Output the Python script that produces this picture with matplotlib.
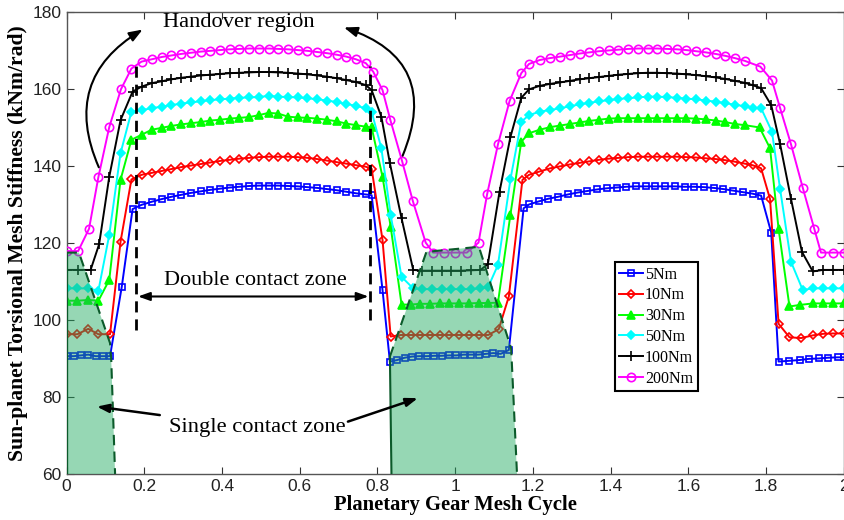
import numpy as np
import matplotlib
matplotlib.use("Agg")
import matplotlib.pyplot as plt
from matplotlib.patches import Polygon

# Sun-planet torsional mesh stiffness over two planetary gear mesh cycles
x_5 = [0, 0.019, 0.037, 0.056, 0.075, 0.093, 0.112, 0.142, 0.17,
       0.193, 0.219, 0.245, 0.27, 0.295, 0.32, 0.345, 0.37, 0.395, 0.42, 0.445, 0.47,
       0.495, 0.52, 0.545, 0.57, 0.595, 0.62, 0.645, 0.67, 0.695, 0.72, 0.745, 0.77, 0.785,
       0.813, 0.832, 0.851, 0.87, 0.889, 0.908, 0.927, 0.946, 0.965, 0.984, 1.003, 1.022,
       1.041, 1.06, 1.079, 1.098, 1.117, 1.138, 1.176,
       1.19, 1.215, 1.24, 1.265, 1.29, 1.315, 1.34, 1.365, 1.39, 1.415, 1.44, 1.465, 1.49,
       1.515, 1.54, 1.565, 1.59, 1.615, 1.64, 1.665, 1.69, 1.715, 1.74, 1.765, 1.787,
       1.813, 1.832, 1.86, 1.886, 1.91, 1.935, 1.96, 1.985, 2.0]
y_5 = [90.6, 90.6, 90.8, 91.0, 90.6, 90.6, 90.6, 108.5, 128.8,
       129.9, 130.7, 131.4, 132.0, 132.5, 133.0, 133.4, 133.8, 134.1, 134.4, 134.6, 134.8,
       134.9, 134.9, 134.9, 134.8, 134.7, 134.5, 134.3, 134.0, 133.7, 133.3, 132.9, 132.6, 132.4,
       107.8, 89.2, 89.6, 90.2, 90.5, 90.6, 90.6, 90.7, 90.7, 90.8, 90.8, 91.0,
       91.0, 91.0, 91.2, 91.4, 91.2, 92.2, 129.0,
       130.0, 130.8, 131.5, 132.0, 132.6, 133.1, 133.5, 133.9, 134.2, 134.4, 134.6, 134.7, 134.7,
       134.7, 134.7, 134.7, 134.6, 134.6, 134.5, 134.3, 134.0, 133.6, 133.2, 132.8, 132.3,
       122.7, 89.2, 89.4, 89.6, 89.9, 90.0, 90.2, 90.3, 90.3]

x_10 = [0, 0.028, 0.056, 0.082, 0.112, 0.139, 0.167,
        0.193, 0.219, 0.245, 0.27, 0.295, 0.32, 0.345, 0.37, 0.395, 0.42, 0.445, 0.47,
        0.495, 0.52, 0.545, 0.57, 0.595, 0.62, 0.645, 0.67, 0.695, 0.72, 0.745, 0.77, 0.785,
        0.813, 0.834, 0.86, 0.885, 0.91, 0.935, 0.96, 0.985, 1.01, 1.035, 1.06, 1.085, 1.112,
        1.138, 1.173,
        1.19, 1.215, 1.245, 1.27, 1.295, 1.32, 1.345, 1.37, 1.395, 1.42, 1.445, 1.47, 1.495,
        1.52, 1.545, 1.57, 1.595, 1.62, 1.645, 1.67, 1.695, 1.72, 1.745, 1.765, 1.787,
        1.81, 1.832, 1.86, 1.89, 1.92, 1.946, 1.971, 2.0]
y_10 = [96.3, 96.3, 97.7, 96.3, 96.3, 120.3, 136.5,
        137.7, 138.2, 138.7, 139.2, 139.7, 140.1, 140.5, 140.9, 141.3, 141.6, 141.9, 142.1,
        142.3, 142.4, 142.4, 142.4, 142.3, 142.1, 141.8, 141.4, 141.0, 140.6, 140.2, 139.8, 139.3,
        120.8, 95.7, 96.1, 96.1, 96.1, 96.1, 96.1, 96.1, 96.1, 96.1, 96.1, 96.1, 97.6,
        106.1, 136.4,
        137.7, 138.5, 139.4, 139.9, 140.4, 140.8, 141.2, 141.6, 141.9, 142.1, 142.3, 142.4, 142.4,
        142.4, 142.4, 142.4, 142.3, 142.2, 142.0, 141.8, 141.5, 141.1, 140.6, 140.2, 139.4,
        131.4, 99.0, 95.5, 95.3, 96.0, 96.4, 96.5, 96.5]

x_30 = [0, 0.028, 0.056, 0.082, 0.11, 0.139, 0.167,
        0.193, 0.219, 0.245, 0.27, 0.295, 0.32, 0.345, 0.37, 0.395, 0.42, 0.445, 0.47,
        0.495, 0.52, 0.545, 0.57, 0.595, 0.62, 0.645, 0.67, 0.695, 0.72, 0.745, 0.77, 0.785,
        0.813, 0.834, 0.862, 0.885, 0.91, 0.935, 0.96, 0.985, 1.01, 1.035, 1.06, 1.085, 1.11,
        1.142, 1.17,
        1.19, 1.217, 1.245, 1.27, 1.295, 1.32, 1.345, 1.37, 1.395, 1.42, 1.445, 1.47, 1.495,
        1.52, 1.545, 1.57, 1.595, 1.62, 1.645, 1.67, 1.695, 1.72, 1.745, 1.783,
        1.81, 1.832, 1.86, 1.886, 1.92, 1.946, 1.971, 2.0]
y_30 = [105.0, 105.0, 105.2, 105.0, 110.4, 136.4, 146.8,
        148.1, 149.4, 149.9, 150.4, 150.8, 151.1, 151.4, 151.8, 152.0, 152.3, 152.5, 152.7,
        153.2, 153.8, 153.6, 152.8, 152.6, 152.5, 152.3, 152.0, 151.6, 151.0, 150.6, 150.2, 150.0,
        137.2, 124.2, 104.0, 104.0, 104.2, 104.2, 104.3, 104.3, 104.3, 104.3, 104.4, 104.4, 104.5,
        127.3, 146.3,
        148.5, 149.4, 150.1, 150.5, 150.9, 151.3, 151.7, 152.0, 152.3, 152.4, 152.4, 152.4, 152.4,
        152.4, 152.4, 152.4, 152.4, 152.3, 152.1, 151.8, 151.4, 150.9, 150.6, 150.0,
        144.6, 123.6, 103.5, 103.9, 104.3, 104.3, 104.3, 104.3]

x_50 = [0, 0.028, 0.056, 0.082, 0.11, 0.139, 0.167,
        0.193, 0.219, 0.245, 0.27, 0.295, 0.32, 0.345, 0.37, 0.395, 0.42, 0.445, 0.47,
        0.495, 0.52, 0.545, 0.57, 0.595, 0.62, 0.645, 0.67, 0.695, 0.72, 0.745, 0.77, 0.785,
        0.81, 0.834, 0.862, 0.892, 0.915, 0.94, 0.965, 0.99, 1.015, 1.04, 1.065, 1.085,
        1.11, 1.142, 1.17,
        1.19, 1.217, 1.243, 1.27, 1.295, 1.32, 1.345, 1.37, 1.395, 1.42, 1.445, 1.47, 1.495,
        1.52, 1.545, 1.57, 1.595, 1.62, 1.645, 1.67, 1.695, 1.72, 1.745, 1.765, 1.787,
        1.815, 1.836, 1.864, 1.894, 1.92, 1.946, 1.971, 2.0]
y_50 = [108.2, 108.2, 108.2, 107.6, 122.1, 143.3, 154.1,
        154.5, 155.0, 155.4, 155.8, 156.2, 156.5, 156.8, 157.1, 157.3, 157.5, 157.7, 157.8,
        157.9, 158.2, 158.0, 157.9, 157.8, 157.6, 157.3, 157.0, 156.6, 156.1, 155.6, 155.0, 154.1,
        144.6, 127.3, 111.2, 108.2, 108.0, 108.0, 108.0, 108.0, 108.0, 108.0, 108.2, 108.6,
        114.3, 136.5, 151.5,
        153.2, 154.1, 154.5, 155.0, 155.5, 156.0, 156.4, 156.8, 157.1, 157.4, 157.6, 157.8, 158.0,
        158.0, 157.9, 157.7, 157.5, 157.3, 157.0, 156.7, 156.3, 155.9, 155.5, 155.1, 155.0,
        148.9, 133.9, 115.1, 107.8, 108.2, 108.2, 108.2, 108.2]

x_100 = [0, 0.03, 0.062, 0.084, 0.11, 0.139, 0.17,
         0.193, 0.219, 0.245, 0.27, 0.295, 0.32, 0.345, 0.37, 0.395, 0.42, 0.445, 0.47,
         0.495, 0.52, 0.545, 0.57, 0.595, 0.62, 0.645, 0.67, 0.695, 0.72, 0.745, 0.77, 0.785,
         0.81, 0.832, 0.862, 0.892, 0.915, 0.94, 0.965, 0.99, 1.015, 1.04, 1.065, 1.084,
         1.114, 1.142, 1.17,
         1.19, 1.217, 1.243, 1.27, 1.295, 1.32, 1.345, 1.37, 1.395, 1.42, 1.445, 1.47, 1.495,
         1.52, 1.545, 1.57, 1.595, 1.62, 1.645, 1.67, 1.695, 1.72, 1.745, 1.765, 1.787,
         1.813, 1.836, 1.864, 1.892, 1.92, 1.946, 1.971, 2.0]
y_100 = [113.0, 113.0, 113.0, 119.7, 137.2, 151.9, 159.3,
         160.6, 161.5, 162.0, 162.5, 162.9, 163.2, 163.5, 163.7, 163.9, 164.1, 164.2, 164.3,
         164.4, 164.4, 164.3, 164.2, 164.0, 163.8, 163.5, 163.2, 162.8, 162.3, 161.8, 161.0, 159.7,
         152.8, 140.7, 126.4, 113.0, 112.8, 112.8, 112.8, 112.8, 112.8, 112.9, 113.0, 114.5,
         133.3, 147.5, 157.7,
         159.9, 160.8, 161.3, 161.7, 162.1, 162.5, 162.8, 163.1, 163.4, 163.7, 163.9, 164.1, 164.2,
         164.2, 164.1, 164.0, 163.8, 163.6, 163.3, 163.0, 162.6, 162.1, 161.6, 161.0, 160.2,
         155.8, 145.6, 131.4, 117.7, 112.6, 113.0, 113.0, 113.0]

x_200 = [0, 0.03, 0.058, 0.082, 0.11, 0.14, 0.167,
         0.193, 0.219, 0.245, 0.27, 0.295, 0.32, 0.345, 0.37, 0.395, 0.42, 0.445, 0.47,
         0.495, 0.52, 0.545, 0.57, 0.595, 0.62, 0.645, 0.67, 0.695, 0.72, 0.745, 0.77, 0.789,
         0.813, 0.833, 0.863, 0.891, 0.924, 0.943, 0.97, 1.0, 1.03, 1.06,
         1.082, 1.11, 1.14, 1.17, 1.19,
         1.217, 1.243, 1.27, 1.295, 1.32, 1.345, 1.37, 1.395, 1.42, 1.445, 1.47, 1.495,
         1.52, 1.545, 1.57, 1.595, 1.62, 1.645, 1.67, 1.695, 1.72, 1.745, 1.785,
         1.815, 1.836, 1.864, 1.894, 1.924, 1.941, 1.971, 2.0]
y_200 = [117.9, 117.9, 123.7, 137.1, 150.1, 159.9, 165.3,
         167.1, 167.7, 168.3, 168.7, 169.1, 169.4, 169.7, 169.9, 170.1, 170.3, 170.4, 170.5,
         170.5, 170.5, 170.4, 170.3, 170.1, 169.9, 169.6, 169.3, 168.9, 168.4, 167.7, 166.7, 164.5,
         159.7, 152.0, 141.4, 130.9, 120.1, 117.5, 117.5, 117.5, 117.5, 120.1,
         132.6, 145.6, 156.9, 164.1, 166.5,
         167.5, 168.0, 168.4, 168.8, 169.2, 169.5, 169.8, 170.0, 170.2, 170.4, 170.5, 170.5,
         170.5, 170.4, 170.3, 170.1, 169.8, 169.5, 169.1, 168.6, 168.0, 167.3, 165.8,
         162.2, 155.0, 145.6, 134.4, 123.6, 117.5, 117.5, 117.5]

# Single contact zones (shaded polygons)
zone1_x = [0, 0, 0.032, 0.112, 0.115, 0.125]
zone1_y = [60, 117.5, 117.5, 94.0, 90.0, 60]
zone2_x = [0.836, 0.832, 0.926, 1.061, 1.144, 1.159]
zone2_y = [60, 90.5, 117.7, 119.0, 92.6, 60]

# Boundaries of the double contact zone
double_x = [0.179, 0.782]
double_lo = [97.5, 100.0]
double_hi = [166.0, 166.0]

series = [
    (x_5, y_5, '5Nm', '#0000ff', 's', 'none'),
    (x_10, y_10, '10Nm', '#ff0000', 'D', 'none'),
    (x_30, y_30, '30Nm', '#00ff00', '^', '#00ff00'),
    (x_50, y_50, '50Nm', '#00ffff', 'D', '#00ffff'),
    (x_100, y_100, '100Nm', '#000000', '+', '#000000'),
    (x_200, y_200, '200Nm', '#ff00ff', 'o', 'none'),
]
marker_size = {'s': 5.0, 'D': 4.3, '^': 5.4, '+': 7.5, 'o': 6.0}

serif = 'Liberation Serif'
plt.rcParams['font.family'] = 'Liberation Sans'

fig = plt.figure(figsize=(8.45, 5.2), dpi=100)
ax = fig.add_axes([0.0787, 0.0885, 0.92, 0.8885])

for xs, ys, lab, col, mk, fc in series:
    ax.plot(xs, ys, color=col, lw=1.4, marker=mk, ms=marker_size[mk],
            mfc=fc, mec=col, mew=1.2, label=lab, zorder=3)

for zx, zy in [(zone1_x, zone1_y), (zone2_x, zone2_y)]:
    poly = Polygon(np.column_stack([zx, zy]), closed=True, facecolor='#20aa60',
                   alpha=0.47, edgecolor='none', zorder=4)
    ax.add_patch(poly)
    ax.plot(zx[1:], zy[1:], color='#0b5a2a', lw=1.5, ls=(0, (5, 3)), zorder=5)
    ax.plot(zx[:2], zy[:2], color='#0b5a2a', lw=1.5, zorder=5)

for xv, lo, hi in zip(double_x, double_lo, double_hi):
    ax.plot([xv, xv], [lo, hi], color='k', lw=2.0, ls=(0, (4, 2.5)), zorder=6)

# Annotations
ax.text(0.443, 177.3, 'Handover region', family=serif, fontsize=16.2,
        ha='center', va='center')
ax.annotate('', xy=(0.202, 175.8), xytext=(0.086, 139.0),
            arrowprops=dict(arrowstyle='-|>,head_length=0.8,head_width=0.3', color='k',
                            lw=1.5, connectionstyle='arc3,rad=-0.45'), zorder=7)
ax.annotate('', xy=(0.707, 176.2), xytext=(0.862, 142.0),
            arrowprops=dict(arrowstyle='-|>,head_length=0.8,head_width=0.3', color='k',
                            lw=1.5, connectionstyle='arc3,rad=0.55'), zorder=7)

ax.text(0.486, 110.2, 'Double contact zone', family=serif, fontsize=16,
        ha='center', va='center')
ax.annotate('', xy=(0.184, 106.1), xytext=(0.777, 106.1),
            arrowprops=dict(arrowstyle='<|-|>,head_length=0.7,head_width=0.25', color='k',
                            lw=1.5, shrinkA=0, shrinkB=0), zorder=7)

ax.text(0.490, 72.2, 'Single contact zone', family=serif, fontsize=16.2,
        ha='center', va='center')
ax.annotate('', xy=(0.078, 77.5), xytext=(0.240, 75.3),
            arrowprops=dict(arrowstyle='-|>,head_length=0.7,head_width=0.25', color='k',
                            lw=1.8, shrinkA=0, shrinkB=0), zorder=7)
ax.annotate('', xy=(0.904, 79.7), xytext=(0.724, 73.6),
            arrowprops=dict(arrowstyle='-|>,head_length=0.7,head_width=0.25', color='k',
                            lw=1.8, shrinkA=0, shrinkB=0), zorder=7)

ax.set_xlim(0, 2)
ax.set_ylim(60, 180)
ax.set_xticks(np.arange(0, 2.01, 0.2))
ax.set_xticklabels(['0', '0.2', '0.4', '0.6', '0.8', '1', '1.2', '1.4', '1.6', '1.8', '2'])
ax.set_yticks(np.arange(60, 181, 20))
ax.tick_params(direction='in', length=5, width=0.8, top=True, right=True,
               labelsize=12.5, colors='#333333', labelcolor='#222222')
for sp in ax.spines.values():
    sp.set_color('#555555')
    sp.set_linewidth(1.0)

ax.set_xlabel('Planetary Gear Mesh Cycle', family=serif, fontweight='bold',
              fontsize=14.9, labelpad=1)
ax.set_ylabel('Sun-planet Torsional Mesh Stiffness (kNm/rad)', family=serif,
              fontweight='bold', fontsize=15.6, labelpad=3)

leg = ax.legend(loc='upper left', bbox_to_anchor=(0.705, 0.459), borderaxespad=0,
                prop={'family': serif, 'size': 11.5}, frameon=True, fancybox=False,
                handlelength=1.5, handletextpad=0.1, labelspacing=0.3,
                borderpad=0.3, framealpha=1)
leg.get_frame().set_edgecolor('k')
leg.get_frame().set_linewidth(1.5)

fig.savefig('out.png', dpi=100)
